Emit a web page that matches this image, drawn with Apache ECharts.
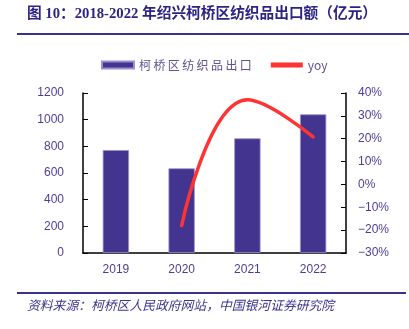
<!DOCTYPE html>
<html>
<head>
<meta charset="utf-8">
<script src="https://cdn.jsdelivr.net/npm/echarts@6/dist/echarts.min.js"></script>
<style>
  html, body { margin: 0; padding: 0; background: #fff; }
  #chart { width: 409px; height: 329px; }
</style>
</head>
<body>
<div id="chart"></div>
<script>
// Keqiao district textile exports, 2019-2022
const years = ['2019', '2020', '2021', '2022'];
const exportValues = [772, 635, 860, 1040];      // 亿元
const yoyValues = [null, -18.0, 37.0, 20.8];     // %
const leftTicks = { min: 0, max: 1200, interval: 200 };
const rightTicks = { min: -30, max: 40, interval: 10 };

const titleText = '图 10：2018-2022 年绍兴柯桥区纺织品出口额（亿元）';
const sourceText = '资料来源：柯桥区人民政府网站，中国银河证券研究院';

const navy = '#2c2483';
const labelColor = '#4a3f98';
const barColor = '#42348f';

// spread CJK legend text a little
const spaced = s => /[\u4e00-\u9fff]/.test(s) ? s.split('').join('\u2009') : s;

const chart = echarts.init(document.getElementById('chart'), null, { renderer: 'canvas' });

chart.setOption({
  animation: false,
  backgroundColor: '#fff',
  grid: { left: 83, right: 63, top: 93, bottom: 76, containLabel: false },
  legend: {
    top: 59,
    left: 101,
    padding: 0,
    itemGap: 19,
    itemWidth: 32,
    itemHeight: 7,
    formatter: spaced,
    textStyle: { color: '#5a5490', fontSize: 12, fontFamily: 'Noto Sans CJK SC' },
    data: [
      { name: '柯桥区纺织品出口', icon: 'rect' },
      { name: 'yoy', icon: 'path://M0,0 L32,0 L32,5 L0,5 Z', itemStyle: { color: '#ff3333' } }
    ]
  },
  xAxis: {
    type: 'category',
    data: years,
    axisLine: { lineStyle: { color: '#000', width: 1.5 } },
    axisTick: { inside: true, length: 4, alignWithLabel: false, lineStyle: { color: '#000' } },
    axisLabel: { color: labelColor, fontSize: 12, fontFamily: 'Liberation Sans', margin: 11 }
  },
  yAxis: [
    {
      type: 'value',
      min: leftTicks.min, max: leftTicks.max, interval: leftTicks.interval,
      axisLine: { show: true, lineStyle: { color: '#000', width: 1.5 } },
      axisTick: { show: true, inside: true, length: 5, lineStyle: { color: '#000' } },
      splitLine: { show: false },
      axisLabel: {
        color: labelColor, fontSize: 12, fontFamily: 'Liberation Sans', margin: 19,
        formatter: v => String(v)
      }
    },
    {
      type: 'value',
      min: rightTicks.min, max: rightTicks.max, interval: rightTicks.interval,
      position: 'right',
      axisLine: { show: true, lineStyle: { color: '#000', width: 1.5 } },
      axisTick: { show: true, inside: true, length: 5, lineStyle: { color: '#000' } },
      splitLine: { show: false },
      axisLabel: {
        color: labelColor, fontSize: 12, fontFamily: 'Liberation Sans', margin: 12,
        formatter: v => (v < 0 ? '\u2212' + Math.abs(v) : v) + '%'
      }
    }
  ],
  series: [
    {
      name: '柯桥区纺织品出口',
      type: 'bar',
      data: exportValues,
      barWidth: '40%',
      itemStyle: { color: barColor, borderColor: '#9a90d0', borderWidth: 0.8 }
    },
    {
      name: 'yoy',
      type: 'line',
      yAxisIndex: 1,
      data: yoyValues,
      smooth: 0.45,
      showSymbol: false,
      symbol: 'none',
      lineStyle: { color: '#ff3333', width: 3.5, cap: 'round' },
      itemStyle: { color: '#ff3333' }
    }
  ],
  graphic: [
    {
      type: 'text', left: 27, top: 7,
      style: {
        text: titleText, fill: navy,
        font: 'bold 14.7px "Liberation Serif", "Noto Sans CJK SC", serif'
      }
    },
    {
      type: 'rect', left: 17, top: 33,
      shape: { width: 392, height: 2 },
      style: { fill: '#3a318c' }
    },
    {
      type: 'rect', left: 17, top: 292,
      shape: { width: 389, height: 2 },
      style: { fill: '#3a318c' }
    },
    {
      type: 'text', left: 27, top: 299,
      style: {
        text: sourceText, fill: '#3d3490',
        font: 'italic 12.8px "Noto Sans CJK SC", sans-serif'
      }
    }
  ]
});
</script>
</body>
</html>
